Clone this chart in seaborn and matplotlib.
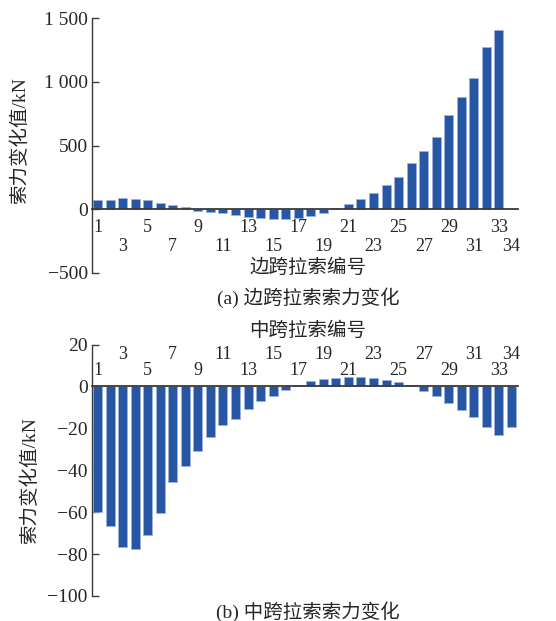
import numpy as np
import pandas as pd
import matplotlib
matplotlib.use("Agg")
import matplotlib.pyplot as plt
import seaborn as sns

# cable numbers 1..34
cables = [str(i) for i in range(1, 35)]

# (a) side span cable force change, kN (cable 34 has no bar)
side_force = [71, 76, 86, 82, 70, 52, 33, 17, -16, -24, -31, -47, -60, -65, -79, -76,
              -68, -55, -31, 13, 39, 84, 131, 188, 251, 360, 455, 563, 743, 879,
              1026, 1275, 1408, 0]

# (b) mid span cable force change, kN
mid_force = [-60.0, -66.5, -76.8, -77.4, -70.7, -60.4, -45.5, -38.1, -31.0, -24.3,
             -18.4, -15.6, -10.8, -6.8, -4.5, -1.6, 0.8, 2.4, 3.5, 4.1, 4.3, 4.6,
             4.0, 3.0, 1.9, 0.8, -2.4, -4.8, -8.1, -11.1, -14.6, -19.4, -23.2, -19.4]

# labelled cables: row next to the zero line and the row further away
near_labels = ["1", "5", "9", "13", "17", "21", "25", "29", "33"]
far_labels = ["3", "7", "11", "15", "19", "23", "27", "31", "34"]

side_yticks = [-500, 0, 500, 1000, 1500]
side_yticklabels = ["\u2212500", "0", "500", "1 000", "1 500"]
mid_yticks = [-100, -80, -60, -40, -20, 0, 20]
mid_yticklabels = ["\u2212100", "\u221280", "\u221260", "\u221240", "\u221220", "0", "20"]

ylabel = "索力变化值/kN"
side_xlabel = "边跨拉索编号"
mid_xlabel = "中跨拉索编号"
side_caption = "(a) 边跨拉索索力变化"
mid_caption = "(b) 中跨拉索索力变化"

sns.set_style("white")
plt.rcParams["font.family"] = ["Liberation Serif", "Noto Sans CJK SC"]
plt.rcParams["font.size"] = 13

bar_color = "#2756a5"
line_color = "#3a3a3a"

df_side = pd.DataFrame({"cable": cables, "force": side_force})
df_mid = pd.DataFrame({"cable": cables, "force": mid_force})

fig = plt.figure(figsize=(5.56, 6.21), dpi=100)
ax1 = fig.add_axes([0.1655, 0.5604, 0.7662, 0.4106])
ax2 = fig.add_axes([0.1655, 0.0403, 0.7662, 0.4049])


def style_axis(ax, yticks, yticklabels, ylim, top, near_pad, far_pad):
    ax.set_xlim(-0.44, 33.52)
    ax.set_ylim(*ylim)
    ax.set_yticks(yticks)
    ax.set_yticklabels(yticklabels)
    ax.set_xlabel("")
    ax.set_ylabel("")
    ax.spines["right"].set_visible(False)
    ax.spines["left"].set_color(line_color)
    ax.spines["left"].set_linewidth(1.0)
    ax.tick_params(axis="y", which="major", left=True, direction="in", length=5,
                   width=1.0, color=line_color, labelsize=14, pad=3)

    near_pos = [cables.index(c) for c in near_labels]
    far_pos = [cables.index(c) for c in far_labels]
    ax.set_xticks(near_pos)
    ax.set_xticklabels(near_labels)
    ax.set_xticks(far_pos, minor=True)
    ax.set_xticklabels(far_labels, minor=True)

    side = "top" if top else "bottom"
    other = "bottom" if top else "top"
    if top:
        ax.xaxis.tick_top()
    ax.spines[other].set_visible(False)
    ax.spines[side].set_position(("data", 0))
    ax.spines[side].set_color(line_color)
    ax.spines[side].set_linewidth(1.3)
    ax.tick_params(axis="x", which="major", length=0, labelsize=13, pad=near_pad)
    ax.tick_params(axis="x", which="minor", length=0, labelsize=13, pad=far_pad)


sns.barplot(data=df_side, x="cable", y="force", color=bar_color, saturation=1,
            width=0.72, edgecolor="#9fb4dc", linewidth=0.5, ax=ax1)
style_axis(ax1, side_yticks, side_yticklabels, (-500, 1500), False, 7, 21)

sns.barplot(data=df_mid, x="cable", y="force", color=bar_color, saturation=1,
            width=0.72, edgecolor="#9fb4dc", linewidth=0.5, ax=ax2)
style_axis(ax2, mid_yticks, mid_yticklabels, (-100, 20), True, 5, 17)

fig.text(308 / 556, 1 - 268 / 621, side_xlabel, ha="center", va="center", fontsize=14)
fig.text(308 / 556, 1 - 298 / 621, side_caption, ha="center", va="center", fontsize=14)
fig.text(308 / 556, 1 - 331 / 621, mid_xlabel, ha="center", va="center", fontsize=14)
fig.text(308 / 556, 1 - 612 / 621, mid_caption, ha="center", va="center", fontsize=14)
fig.text(20 / 556, 1 - 140 / 621, ylabel, ha="center", va="center", rotation=90, fontsize=14)
fig.text(30 / 556, 1 - 480 / 621, ylabel, ha="center", va="center", rotation=90, fontsize=14)

fig.savefig("out.png", dpi=100)
